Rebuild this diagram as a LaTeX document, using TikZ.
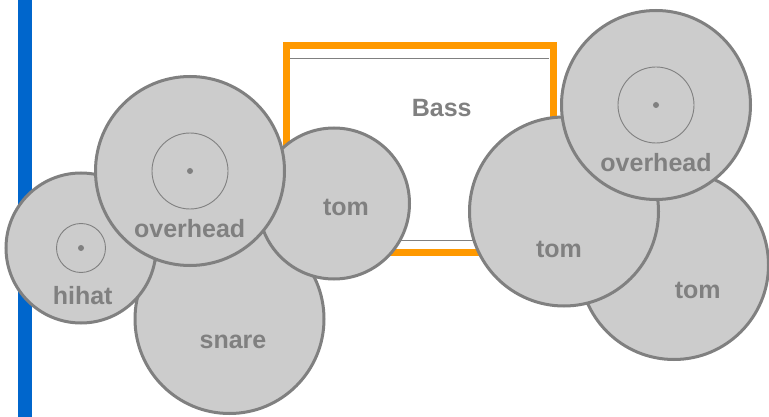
\documentclass[tikz,border=0pt]{standalone}
\usepackage{fontspec}
\setmainfont{Liberation Sans}
\definecolor{drumfill}{HTML}{CCCCCC}
\definecolor{drumline}{HTML}{808080}
\definecolor{bassorange}{HTML}{FF9900}
\definecolor{barblue}{HTML}{0066CC}
\begin{document}
\begin{tikzpicture}[x=1pt,y=-1pt,
  drum/.style={circle,draw=drumline,fill=drumfill,line width=3pt,inner sep=0pt},
  bigdrum/.style={drum,minimum size=189pt},
  ring/.style={circle,draw=drumline,line width=0.9pt,inner sep=0pt},
  centerdot/.style={circle,fill=drumline,inner sep=0pt,minimum size=6pt},
  lbl/.style={anchor=base,inner sep=0pt,text=drumline,font=\fontsize{25}{30}\selectfont\bfseries}]
\useasboundingbox (0,0) rectangle (769,417);
% blue bar
\fill[barblue] (18,0) rectangle (32,417);
% bass drum
\draw[bassorange,line width=7pt] (286.5,45.5) rectangle (553,252.5);
\coordinate (bt1) at (290,58.3); \coordinate (bt2) at (549,58.3);
\coordinate (bb1) at (290,240.5); \coordinate (bb2) at (549,240.5);
\draw[drumline,line width=1pt] (bt1) -- (bt2);
\draw[drumline,line width=1pt] (bb1) -- (bb2);
\node[lbl] (basslbl) at (441.7,116.7) {Bass};
% left group
\node[bigdrum] (snare) at (229.5,319) {};
\node[lbl] (snarelbl) at (233,348.3) {snare};
\node[drum,minimum size=150pt] (hihat) at (81,248) {};
\node[ring,minimum size=49pt] (hihatring) at (hihat.center) {};
\node[centerdot] (hihatdot) at (hihat.center) {};
\node[lbl] (hihatlbl) at (82.7,304) {hihat};
\node[drum,minimum size=151pt] (tomL) at (334,203.5) {};
\node[lbl] (tomLlbl) at (346,215) {tom};
\node[bigdrum] (ohL) at (190,171) {};
\node[ring,minimum size=76pt] (ohLring) at (ohL.center) {};
\node[centerdot] (ohLdot) at (ohL.center) {};
\node[lbl] (ohLlbl) at (189.7,237.3) {overhead};
% right group
\node[bigdrum] (tomR) at (674,265) {};
\node[lbl] (tomRlbl) at (697.7,298.3) {tom};
\node[bigdrum] (tomM) at (564,211.5) {};
\node[lbl] (tomMlbl) at (559,257.7) {tom};
\node[bigdrum] (ohR) at (656,105) {};
\node[ring,minimum size=76pt] (ohRring) at (ohR.center) {};
\node[centerdot] (ohRdot) at (ohR.center) {};
\node[lbl] (ohRlbl) at (656,171.7) {overhead};
\end{tikzpicture}
\end{document}
